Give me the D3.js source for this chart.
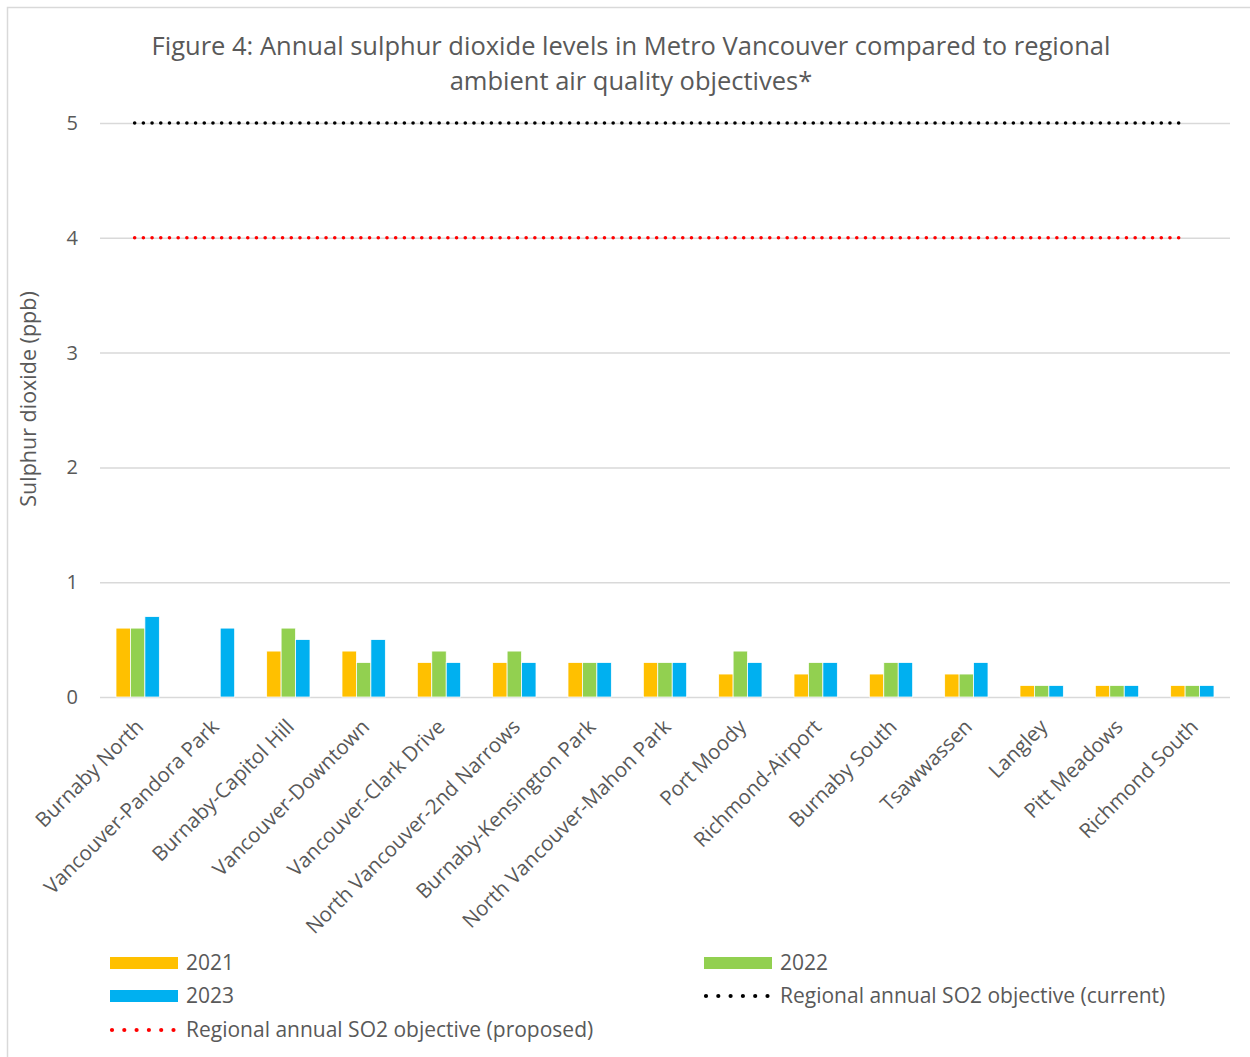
<!DOCTYPE html>
<html>
<head>
<meta charset="utf-8">
<script src="https://cdn.jsdelivr.net/npm/d3@7"></script>
<style>
  body { margin: 0; background: #fff; }
  svg { font-family: "Open Sans", sans-serif; }
</style>
</head>
<body>
<svg width="1250" height="1057"></svg>
<script>
var stations = ["Burnaby North", "Vancouver-Pandora Park", "Burnaby-Capitol Hill", "Vancouver-Downtown",
    "Vancouver-Clark Drive", "North Vancouver-2nd Narrows", "Burnaby-Kensington Park",
    "North Vancouver-Mahon Park", "Port Moody", "Richmond-Airport", "Burnaby South",
    "Tsawwassen", "Langley", "Pitt Meadows", "Richmond South"];
var years = ["2021", "2022", "2023"];
var values2021 = [0.6, null, 0.4, 0.4, 0.3, 0.3, 0.3, 0.3, 0.2, 0.2, 0.2, 0.2, 0.1, 0.1, 0.1];
var values2022 = [0.6, null, 0.6, 0.3, 0.4, 0.4, 0.3, 0.3, 0.4, 0.3, 0.3, 0.2, 0.1, 0.1, 0.1];
var values2023 = [0.7, 0.6, 0.5, 0.5, 0.3, 0.3, 0.3, 0.3, 0.3, 0.3, 0.3, 0.3, 0.1, 0.1, 0.1];
var objectiveCurrent = 5;
var objectiveProposed = 4;
var yTicks = [0, 1, 2, 3, 4, 5];
var colors = { "2021": "#FFC000", "2022": "#92D050", "2023": "#00B0F0" };

var svg = d3.select("svg");
var textColor = "#595959";

// chart frame
svg.append("rect")
    .attr("x", 7.5).attr("y", 7.5)
    .attr("width", 1250).attr("height", 1060)
    .attr("fill", "none").attr("stroke", "#d9d9d9").attr("stroke-width", 1.5);

var plotLeft = 100, plotRight = 1230, plotTop = 123, plotBottom = 697;

var x = d3.scaleBand().domain(stations).range([plotLeft, plotRight])
    .paddingInner(0.425).paddingOuter(0.2125);
var xs = d3.scaleBand().domain(years).range([0, x.bandwidth()]);
var y = d3.scaleLinear().domain([0, 5]).range([plotBottom, plotTop]);

// title
svg.append("text")
    .attr("x", 631).attr("y", 55)
    .attr("text-anchor", "middle")
    .attr("font-size", 25.5).attr("fill", textColor)
    .text("Figure 4: Annual sulphur dioxide levels in Metro Vancouver compared to regional");
svg.append("text")
    .attr("x", 631).attr("y", 90)
    .attr("text-anchor", "middle")
    .attr("font-size", 25.5).attr("fill", textColor)
    .text("ambient air quality objectives*");

// grid + y axis
var yAxis = d3.axisLeft(y).tickValues(yTicks).tickFormat(d3.format("d"))
    .tickSize(-(plotRight - plotLeft)).tickPadding(22);
var gy = svg.append("g").attr("transform", "translate(" + plotLeft + ",0)").call(yAxis);
gy.select(".domain").remove();
gy.selectAll(".tick line").attr("stroke", "#d9d9d9").attr("stroke-width", 1.5);
gy.selectAll(".tick text").attr("font-size", 20).attr("fill", textColor)
    .attr("font-family", "Open Sans, sans-serif");

svg.append("text")
    .attr("transform", "translate(36," + ((plotTop + plotBottom) / 2 - 11) + ") rotate(-90)")
    .attr("text-anchor", "middle")
    .attr("font-size", 21.5).attr("fill", textColor)
    .text("Sulphur dioxide (ppb)");

// bars
var series = [values2021, values2022, values2023];
var rows = [];
stations.forEach(function (s, i) {
    years.forEach(function (yr, j) {
        if (series[j][i] != null) rows.push({ station: s, year: yr, value: series[j][i] });
    });
});

svg.append("g").selectAll("rect")
    .data(rows)
    .enter().append("rect")
    .attr("x", d => x(d.station) + xs(d.year))
    .attr("y", d => y(d.value))
    .attr("width", xs.bandwidth())
    .attr("height", d => y(0) - y(d.value))
    .attr("fill", d => colors[d.year])
    .attr("stroke", "#fff").attr("stroke-width", 0.75);

// objective lines
function objectiveLine(val, color) {
    svg.append("line")
        .attr("x1", x(stations[0]) + x.bandwidth() / 2 - 3)
        .attr("x2", x(stations[stations.length - 1]) + x.bandwidth() / 2 - 8)
        .attr("y1", y(val)).attr("y2", y(val))
        .attr("stroke", color).attr("stroke-width", 3.6)
        .attr("stroke-linecap", "round")
        .attr("stroke-dasharray", "0 8.7");
}
objectiveLine(objectiveCurrent, "#000");
objectiveLine(objectiveProposed, "#FF0000");

// x labels
svg.append("g").selectAll("text")
    .data(stations)
    .enter().append("text")
    .attr("transform", d => "translate(" + (x(d) + x.bandwidth() / 2 + 2) + "," + (plotBottom + 26) + ") rotate(-45)")
    .attr("text-anchor", "end")
    .attr("dy", "0.35em")
    .attr("font-size", 20.5).attr("fill", textColor)
    .text(d => d);

// legend
var legendItems = [
    { label: "2021", type: "bar", color: colors["2021"], x: 110, y: 963 },
    { label: "2022", type: "bar", color: colors["2022"], x: 704, y: 963 },
    { label: "2023", type: "bar", color: colors["2023"], x: 110, y: 996 },
    { label: "Regional annual SO2 objective (current)", type: "dot", color: "#000", x: 704, y: 996 },
    { label: "Regional annual SO2 objective (proposed)", type: "dot", color: "#FF0000", x: 110, y: 1030 }
];
var lg = svg.append("g").selectAll("g").data(legendItems).enter().append("g");
lg.filter(d => d.type === "bar").append("rect")
    .attr("x", d => d.x).attr("y", d => d.y - 6)
    .attr("width", 68).attr("height", 12)
    .attr("fill", d => d.color);
lg.filter(d => d.type === "dot").append("line")
    .attr("x1", d => d.x + 2).attr("x2", d => d.x + 64)
    .attr("y1", d => d.y).attr("y2", d => d.y)
    .attr("stroke", d => d.color).attr("stroke-width", 4.2)
    .attr("stroke-linecap", "round").attr("stroke-dasharray", "0 12.3");
lg.append("text")
    .attr("x", d => d.x + 76).attr("y", d => d.y)
    .attr("dy", "0.35em")
    .attr("font-size", 21).attr("fill", textColor)
    .text(d => d.label);
</script>
</body>
</html>
